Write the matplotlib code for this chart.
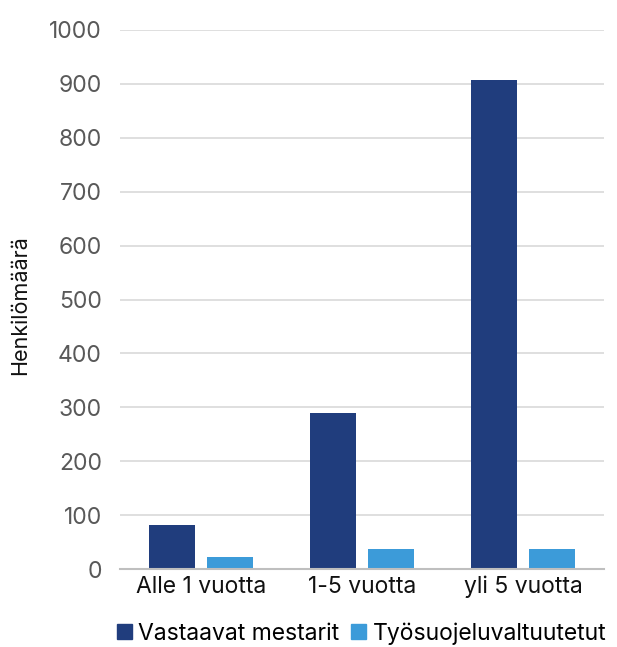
import matplotlib
matplotlib.use("Agg")
import matplotlib.pyplot as plt
from matplotlib.patches import Patch
import numpy as np

categories = ["Alle 1 vuotta", "1-5 vuotta", "yli 5 vuotta"]
series_names = ["Vastaavat mestarit", "Työsuojeluvaltuutetut"]
vastaavat = [82, 289, 907]
tyosuojelu = [22, 37, 37]
yticks = [0, 100, 200, 300, 400, 500, 600, 700, 800, 900, 1000]
ylabel = "Henkilömäärä"

colors = ["#203D7D", "#3C9BD9"]

plt.rcParams['font.family'] = ['Inter', 'DejaVu Sans']

fig = plt.figure(figsize=(6.17, 6.47), dpi=100)
ax = fig.add_axes([120/617, 1-569/647, 484/617, 539/647])

x = np.arange(len(categories))
w = 0.285
off = 0.18
ax.bar(x - off, vastaavat, w, color=colors[0], zorder=3)
ax.bar(x + off, tyosuojelu, w, color=colors[1], zorder=3)

ax.set_xlim(-0.5, 2.5)
ax.set_ylim(0, 1000)
ax.set_yticks(yticks)
ax.set_xticks(x)
ax.set_xticklabels(categories, fontsize=16.5, color="#111111")
ax.tick_params(axis='y', length=0, pad=13, labelsize=16.5, labelcolor="#595959")
ax.tick_params(axis='x', length=0, pad=5)
ax.grid(axis='y', color="#D9D9D9", linewidth=1.2, zorder=0)
for s in ["top", "right", "left"]:
    ax.spines[s].set_visible(False)
ax.spines["bottom"].set_color("#BFBFBF")
ax.spines["bottom"].set_linewidth(1.5)
ax.spines["bottom"].set_zorder(4)

fig.text(20/617, 1-305/647, ylabel, rotation=90, ha='center', va='center',
         fontsize=15.5, color="#111111")

handles = [Patch(color=colors[0]), Patch(color=colors[1])]
fig.legend(handles, series_names, loc='center', bbox_to_anchor=(0.586, 0.021),
           ncol=2, frameon=False, fontsize=16.5, handlelength=0.65, handleheight=0.65,
           handletextpad=0.3, columnspacing=0.5, borderpad=0.1)

fig.savefig("out.png", dpi=100)
